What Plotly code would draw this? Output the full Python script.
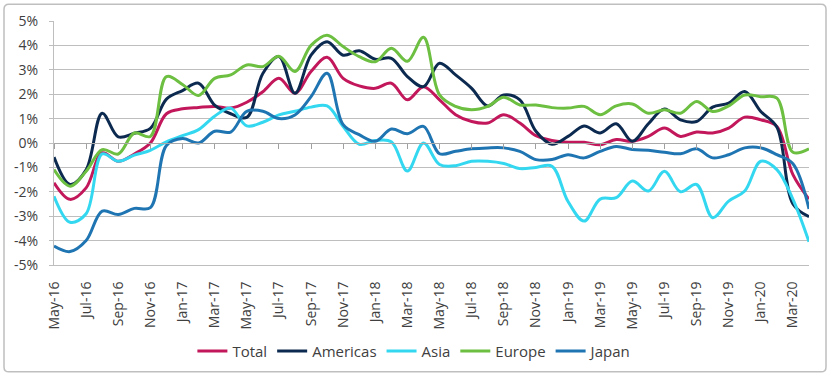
import plotly.graph_objects as go

months = ["May-16", "Jun-16", "Jul-16", "Aug-16", "Sep-16", "Oct-16", "Nov-16", "Dec-16",
          "Jan-17", "Feb-17", "Mar-17", "Apr-17", "May-17", "Jun-17", "Jul-17", "Aug-17",
          "Sep-17", "Oct-17", "Nov-17", "Dec-17", "Jan-18", "Feb-18", "Mar-18", "Apr-18",
          "May-18", "Jun-18", "Jul-18", "Aug-18", "Sep-18", "Oct-18", "Nov-18", "Dec-18",
          "Jan-19", "Feb-19", "Mar-19", "Apr-19", "May-19", "Jun-19", "Jul-19", "Aug-19",
          "Sep-19", "Oct-19", "Nov-19", "Dec-19", "Jan-20", "Feb-20", "Mar-20", "Apr-20"]

total = [-1.63, -2.31, -1.84, -0.4, -0.75, -0.45, 0.0, 1.2, 1.4, 1.46,
         1.5, 1.43, 1.67, 2.1, 2.65, 2.04, 2.93, 3.51, 2.65, 2.34,
         2.24, 2.45, 1.77, 2.31, 1.77, 1.16, 0.88, 0.82, 1.16, 0.82,
         0.3, 0.1, 0.03, 0.03, -0.07, 0.14, 0.07, 0.27, 0.61, 0.27,
         0.45, 0.41, 0.61, 1.06, 0.95, 0.68, -1.3, -2.3]
americas = [-0.58, -1.7, -1.1, 1.22, 0.25, 0.4, 0.6, 1.8, 2.15, 2.45,
            1.55, 1.2, 1.05, 2.85, 3.54, 2.04, 3.6, 4.15, 3.6, 3.78,
            3.43, 3.47, 2.72, 2.31, 3.27, 2.79, 2.24, 1.52, 1.97, 1.77,
            0.48, -0.05, 0.27, 0.7, 0.41, 0.79, 0.07, 0.79, 1.39, 0.95,
            0.88, 1.47, 1.63, 2.11, 1.29, 0.65, -2.5, -3.02]
asia = [-2.18, -3.25, -2.9, -0.45, -0.75, -0.5, -0.3, 0.05, 0.3, 0.55,
        1.1, 1.43, 0.7, 0.85, 1.15, 1.3, 1.47, 1.52, 0.68, -0.05,
        0.1, 0.05, -1.15, 0.0, -0.88, -0.93, -0.75, -0.75, -0.84, -1.05,
        -1.0, -0.95, -2.4, -3.2, -2.3, -2.24, -1.56, -1.97, -1.16, -2.0,
        -1.7, -3.06, -2.38, -1.97, -0.75, -1.09, -2.31, -4.05]
europe = [-1.09, -1.77, -1.16, -0.27, -0.45, 0.41, 0.27, 2.72, 2.4, 1.95,
          2.65, 2.79, 3.2, 3.13, 3.56, 2.93, 4.0, 4.42, 3.95, 3.54,
          3.33, 3.88, 3.35, 4.33, 1.97, 1.5, 1.36, 1.5, 1.88, 1.56,
          1.56, 1.45, 1.43, 1.5, 1.16, 1.52, 1.6, 1.22, 1.36, 1.22,
          1.7, 1.29, 1.52, 1.97, 1.9, 1.84, -0.38, -0.24]
japan = [-4.22, -4.45, -4.0, -2.79, -2.93, -2.68, -2.65, -0.1, 0.18, 0.0,
         0.48, 0.45, 1.3, 1.3, 1.0, 1.15, 1.9, 2.86, 0.75, 0.34,
         0.07, 0.57, 0.38, 0.68, -0.44, -0.34, -0.24, -0.2, -0.2, -0.34,
         -0.68, -0.68, -0.48, -0.61, -0.34, -0.14, -0.27, -0.3, -0.38, -0.44,
         -0.24, -0.61, -0.48, -0.2, -0.2, -0.48, -0.85, -2.7]

series = [("Total", total, "#C2185B"),
          ("Americas", americas, "#0C2A4F"),
          ("Asia", asia, "#33D8F0"),
          ("Europe", europe, "#6CBF40"),
          ("Japan", japan, "#1F74B2")]

tick_labels = months[::2]
y_ticks = [-5, -4, -3, -2, -1, 0, 1, 2, 3, 4, 5]

FONT = "Open Sans"
GRID = "#BEBEBE"
TXT = "#404040"

fig = go.Figure()
for name, vals, col in series:
    fig.add_trace(go.Scatter(x=months, y=vals, name=name, mode="lines",
                             line=dict(color=col, width=3, shape="spline", smoothing=1.0)))

# invisible trace to host the zero-line tick axis
fig.add_trace(go.Scatter(x=[], y=[], xaxis="x2", showlegend=False, hoverinfo="skip"))

fig.update_layout(
    width=830, height=378,
    margin=dict(l=54, r=21, t=21, b=112),
    paper_bgcolor="white", plot_bgcolor="white",
    font=dict(family=FONT, color=TXT, size=12),
    showlegend=True,
    legend=dict(orientation="h", x=0.478, xanchor="center", y=-0.348, yanchor="middle",
                font=dict(family=FONT, size=15, color=TXT), itemwidth=30,
                tracegroupgap=0, bgcolor="rgba(0,0,0,0)"),
    xaxis=dict(type="category", categoryorder="array", categoryarray=months,
               range=[0, len(months) - 1],
               tickvals=tick_labels, ticktext=tick_labels, tickangle=-90,
               tickfont=dict(family=FONT, size=14, color=TXT),
               showgrid=False, zeroline=False,
               showline=True, linecolor=GRID, linewidth=1,
               ticks="", ticklabelstandoff=10),
    xaxis2=dict(overlaying="x", anchor="free", position=0.5, type="linear",
                range=[0, len(months) - 1], tickvals=list(range(0, len(months), 2)),
                showticklabels=False, ticks="outside", ticklen=5, tickcolor="#A0A0A0",
                showgrid=False, zeroline=False, showline=True, linecolor="#A8A8A8",
                linewidth=1),
    yaxis=dict(range=[-5, 5], tickvals=y_ticks, ticktext=[f"{v}%" for v in y_ticks],
               tickfont=dict(family=FONT, size=14, color=TXT),
               showgrid=True, gridcolor=GRID, gridwidth=1, zeroline=False,
               showline=True, linecolor=GRID, linewidth=1,
               ticks="outside", ticklen=4, tickcolor=GRID, ticklabelstandoff=8),
)

# outer rounded frame of the chart
x0, x1 = (4 - 54) / 755, (826 - 54) / 755
y0, y1 = (265.7 - 373) / 245, (265.7 - 4) / 245
rx, ry = 5 / 755, 5 / 245
path = (f"M {x0+rx} {y1} L {x1-rx} {y1} Q {x1} {y1} {x1} {y1-ry} "
        f"L {x1} {y0+ry} Q {x1} {y0} {x1-rx} {y0} L {x0+rx} {y0} "
        f"Q {x0} {y0} {x0} {y0+ry} L {x0} {y1-ry} Q {x0} {y1} {x0+rx} {y1} Z")
fig.add_shape(type="path", path=path, xref="paper", yref="paper",
              line=dict(color="#BFBFBF", width=1.5), layer="above")

fig.write_html("out.html",
               config={"displayModeBar": False},
               post_script="document.body.style.margin='0px';"
                           "document.body.style.overflow='hidden';")
